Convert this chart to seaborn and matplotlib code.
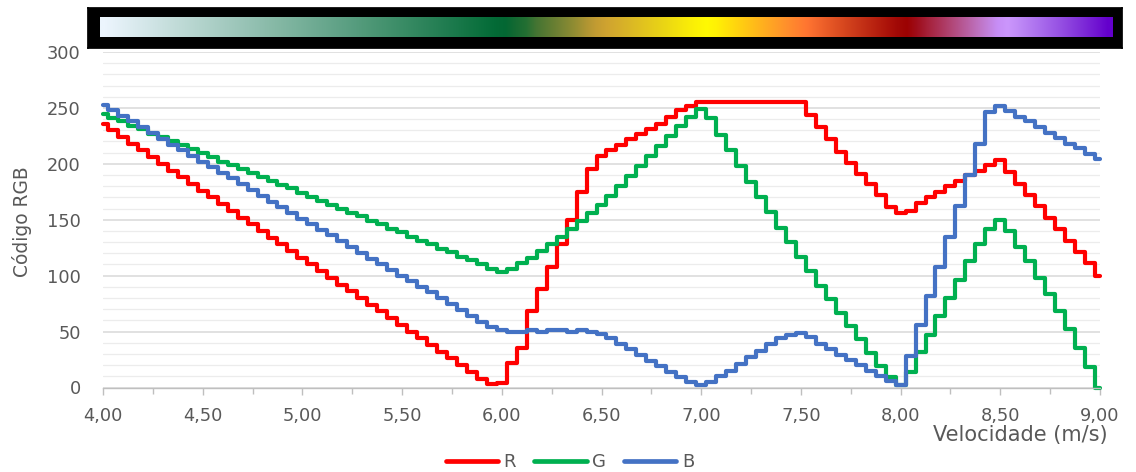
import numpy as np
import pandas as pd
import matplotlib
matplotlib.use("Agg")
import matplotlib.pyplot as plt
import seaborn as sns
from matplotlib.ticker import MultipleLocator, FuncFormatter

# Velocidade (m/s), amostrada a cada 0,05
velocidade = np.round(np.arange(4.0, 9.0001, 0.05), 2)

# Componentes RGB da escala de cores para cada velocidade
canal_r = [236, 230, 224, 218, 212, 206, 200, 194, 188, 182,
           176, 170, 164, 158, 152, 146, 140, 134, 128, 122,
           116, 110, 104, 98, 92, 86, 80, 74, 68, 62,
           56, 50, 44, 38, 32, 26, 20, 14, 8, 3,
           4, 22, 35, 68, 88, 108, 128, 150, 175, 195,
           207, 212, 217, 222, 227, 231, 236, 242, 248, 252,
           255, 255, 255, 255, 255, 255, 255, 255, 255, 255,
           255, 244, 233, 222, 211, 201, 191, 182, 172, 161,
           156, 158, 165, 170, 175, 180, 185, 190, 194, 199,
           203, 193, 182, 172, 162, 152, 142, 131, 121, 111,
           100]

canal_g = [245, 241, 238, 234, 231, 227, 224, 220, 217, 213,
           210, 206, 202, 199, 195, 192, 188, 185, 181, 178,
           174, 170, 167, 163, 160, 156, 153, 149, 146, 142,
           139, 135, 131, 128, 124, 121, 117, 114, 110, 106,
           103, 106, 111, 116, 122, 128, 135, 142, 149, 156,
           163, 171, 180, 189, 198, 207, 216, 225, 234, 242,
           249, 241, 226, 212, 198, 184, 170, 157, 143, 130,
           117, 104, 91, 79, 67, 55, 43, 31, 19, 9,
           2, 14, 32, 47, 64, 80, 96, 113, 128, 142,
           150, 140, 126, 113, 98, 84, 68, 52, 35, 18,
           0]

canal_b = [253, 248, 243, 238, 233, 228, 222, 217, 212, 207,
           202, 197, 192, 187, 182, 177, 171, 166, 161, 156,
           151, 146, 141, 136, 131, 126, 120, 115, 110, 105,
           100, 95, 90, 85, 80, 75, 69, 64, 59, 54,
           51, 50, 50, 51, 50, 51, 51, 50, 51, 50,
           48, 44, 39, 34, 29, 24, 19, 14, 9, 5,
           2, 5, 10, 15, 21, 27, 33, 39, 44, 47,
           49, 45, 39, 34, 29, 25, 20, 15, 10, 6,
           2, 28, 56, 82, 108, 135, 162, 190, 218, 246,
           252, 247, 242, 238, 233, 228, 223, 218, 214, 209,
           204]

canais = ["R", "G", "B"]
cores = {"R": "#ff0000", "G": "#00b050", "B": "#4472c4"}

sns.set_theme(style="white")
plt.rcParams["font.family"] = ["DejaVu Sans"]

cinza_texto = "#595959"
fs_ticks = 12.8

W, H = 1136, 472
fig = plt.figure(figsize=(W / 100, H / 100), dpi=100)
fig.patch.set_facecolor("white")

ax = fig.add_axes([103 / W, 1 - 387.5 / H, 997 / W, 335.5 / H])

dados = pd.DataFrame({
    "Velocidade": np.tile(velocidade, 3),
    "Valor": np.concatenate([canal_r, canal_g, canal_b]),
    "Canal": np.repeat(canais, len(velocidade)),
})

sns.lineplot(data=dados, x="Velocidade", y="Valor", hue="Canal",
             hue_order=canais, palette=cores, linewidth=3.0,
             drawstyle="steps-mid", errorbar=None, ax=ax)
for ln in ax.lines:
    ln.set_clip_on(False)
    ln.set_solid_joinstyle("round")
    ln.set_solid_capstyle("round")

ax.set_xlim(4.0, 9.0)
ax.set_ylim(0, 300)

# Grelha horizontal: principal a cada 50, secundária a cada 10
ax.yaxis.set_major_locator(MultipleLocator(50))
ax.yaxis.set_minor_locator(MultipleLocator(10))
ax.xaxis.set_major_locator(MultipleLocator(0.5))
ax.xaxis.set_minor_locator(MultipleLocator(0.25))
ax.grid(False)
ax.grid(which="major", axis="y", color="#d9d9d9", linewidth=1.1)
ax.grid(which="minor", axis="y", color="#ececec", linewidth=0.9)
ax.set_axisbelow(True)

for s in ["top", "right", "left"]:
    ax.spines[s].set_visible(False)
ax.spines["bottom"].set_color("#bfbfbf")
ax.spines["bottom"].set_linewidth(1.0)

ax.xaxis.set_major_formatter(FuncFormatter(lambda v, _: f"{v:.2f}".replace(".", ",")))
ax.yaxis.set_major_formatter(FuncFormatter(lambda v, _: f"{v:.0f}"))
ax.tick_params(axis="x", which="both", direction="out", length=5, width=1,
               color="#bfbfbf", bottom=True, labelsize=fs_ticks,
               labelcolor=cinza_texto, pad=9)
ax.tick_params(axis="x", which="minor", length=4)
ax.tick_params(axis="y", which="both", length=0, labelsize=fs_ticks,
               labelcolor=cinza_texto, pad=16)

ax.set_xlabel("")
ax.set_ylabel("")
ax.get_legend().remove()

fig.text(22 / W, 1 - 222 / H, "Código RGB", rotation=90, ha="center", va="center",
         color=cinza_texto, fontsize=13.4)
fig.text(1020 / W, 1 - 435 / H, "Velocidade (m/s)", ha="center", va="center",
         color=cinza_texto, fontsize=15)

handles = [plt.Line2D([], [], color=cores[c], linewidth=3.4, solid_capstyle="round")
           for c in canais]
leg = fig.legend(handles, canais, loc="center", bbox_to_anchor=(570 / W, 1 - 462 / H),
                 ncol=3, frameon=False, handlelength=2.9, handletextpad=0.3,
                 columnspacing=1.0, fontsize=13)
for t in leg.get_texts():
    t.set_color(cinza_texto)

# Barra de cores construída a partir dos próprios canais RGB
cax = fig.add_axes([88 / W, 1 - 48 / H, 1034 / W, 40 / H])
cax.set_facecolor("black")
gradiente = np.stack([canal_r, canal_g, canal_b], axis=-1)[np.newaxis, :, :] / 255.0
cax.imshow(gradiente, extent=[(100 - 88) / 1034, (1113 - 88) / 1034,
                               (48 - 37) / 40, (48 - 17) / 40],
           aspect="auto", interpolation="bilinear")
cax.set_xlim(0, 1)
cax.set_ylim(0, 1)
cax.set_xticks([])
cax.set_yticks([])
for s in cax.spines.values():
    s.set_color("black")

fig.savefig("out.png", dpi=100, facecolor="white")
